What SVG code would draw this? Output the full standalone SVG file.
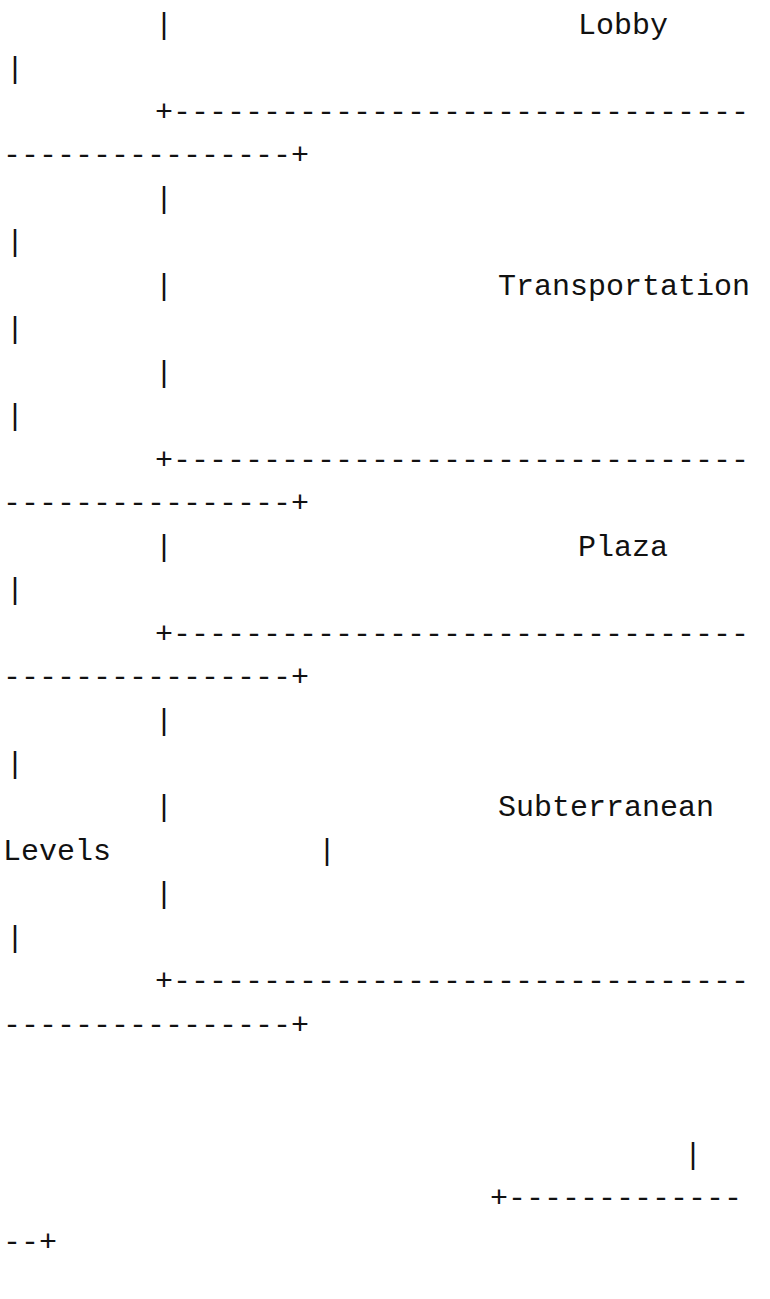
<svg xmlns="http://www.w3.org/2000/svg" width="770" height="1299" viewBox="0 0 770 1299">
<style>
text{font-family:"Liberation Mono","Courier New",monospace;font-size:30px;fill:#111;white-space:pre}
</style>
<rect width="770" height="1299" fill="#fff"/>
<g id="lobby">
<text x="155" y="34">|</text>
<text x="578" y="34">Lobby</text>
<text x="6" y="77.5">|</text>
</g>
<g id="connectors">
<text x="155" y="121">+--------------------------------</text>
<text x="3" y="164.4">----------------+</text>
<text x="155" y="468.8">+--------------------------------</text>
<text x="3" y="512.3">----------------+</text>
<text x="155" y="642.6">+--------------------------------</text>
<text x="3" y="686.1">----------------+</text>
<text x="155" y="990.3">+--------------------------------</text>
<text x="3" y="1033.8">----------------+</text>
<text x="684" y="1164">|</text>
<text x="490" y="1207.4">+-------------</text>
<text x="3" y="1250.9">--+</text>
</g>
<g id="transportation">
<text x="155" y="207.8">|</text>
<text x="6" y="251.3">|</text>
<text x="155" y="294.8">|</text>
<text x="498" y="294.8">Transportation</text>
<text x="6" y="338.2">|</text>
<text x="155" y="381.6">|</text>
<text x="6" y="425.1">|</text>
</g>
<g id="plaza">
<text x="155" y="555.7">|</text>
<text x="578" y="555.7">Plaza</text>
<text x="6" y="599.2">|</text>
</g>
<g id="subterranean">
<text x="155" y="729.5">|</text>
<text x="6" y="773">|</text>
<text x="155" y="816.4">|</text>
<text x="498" y="816.4">Subterranean</text>
<text x="3" y="859.9">Levels</text>
<text x="318" y="859.9">|</text>
<text x="155" y="903.3">|</text>
<text x="6" y="946.8">|</text>
</g>
</svg>
